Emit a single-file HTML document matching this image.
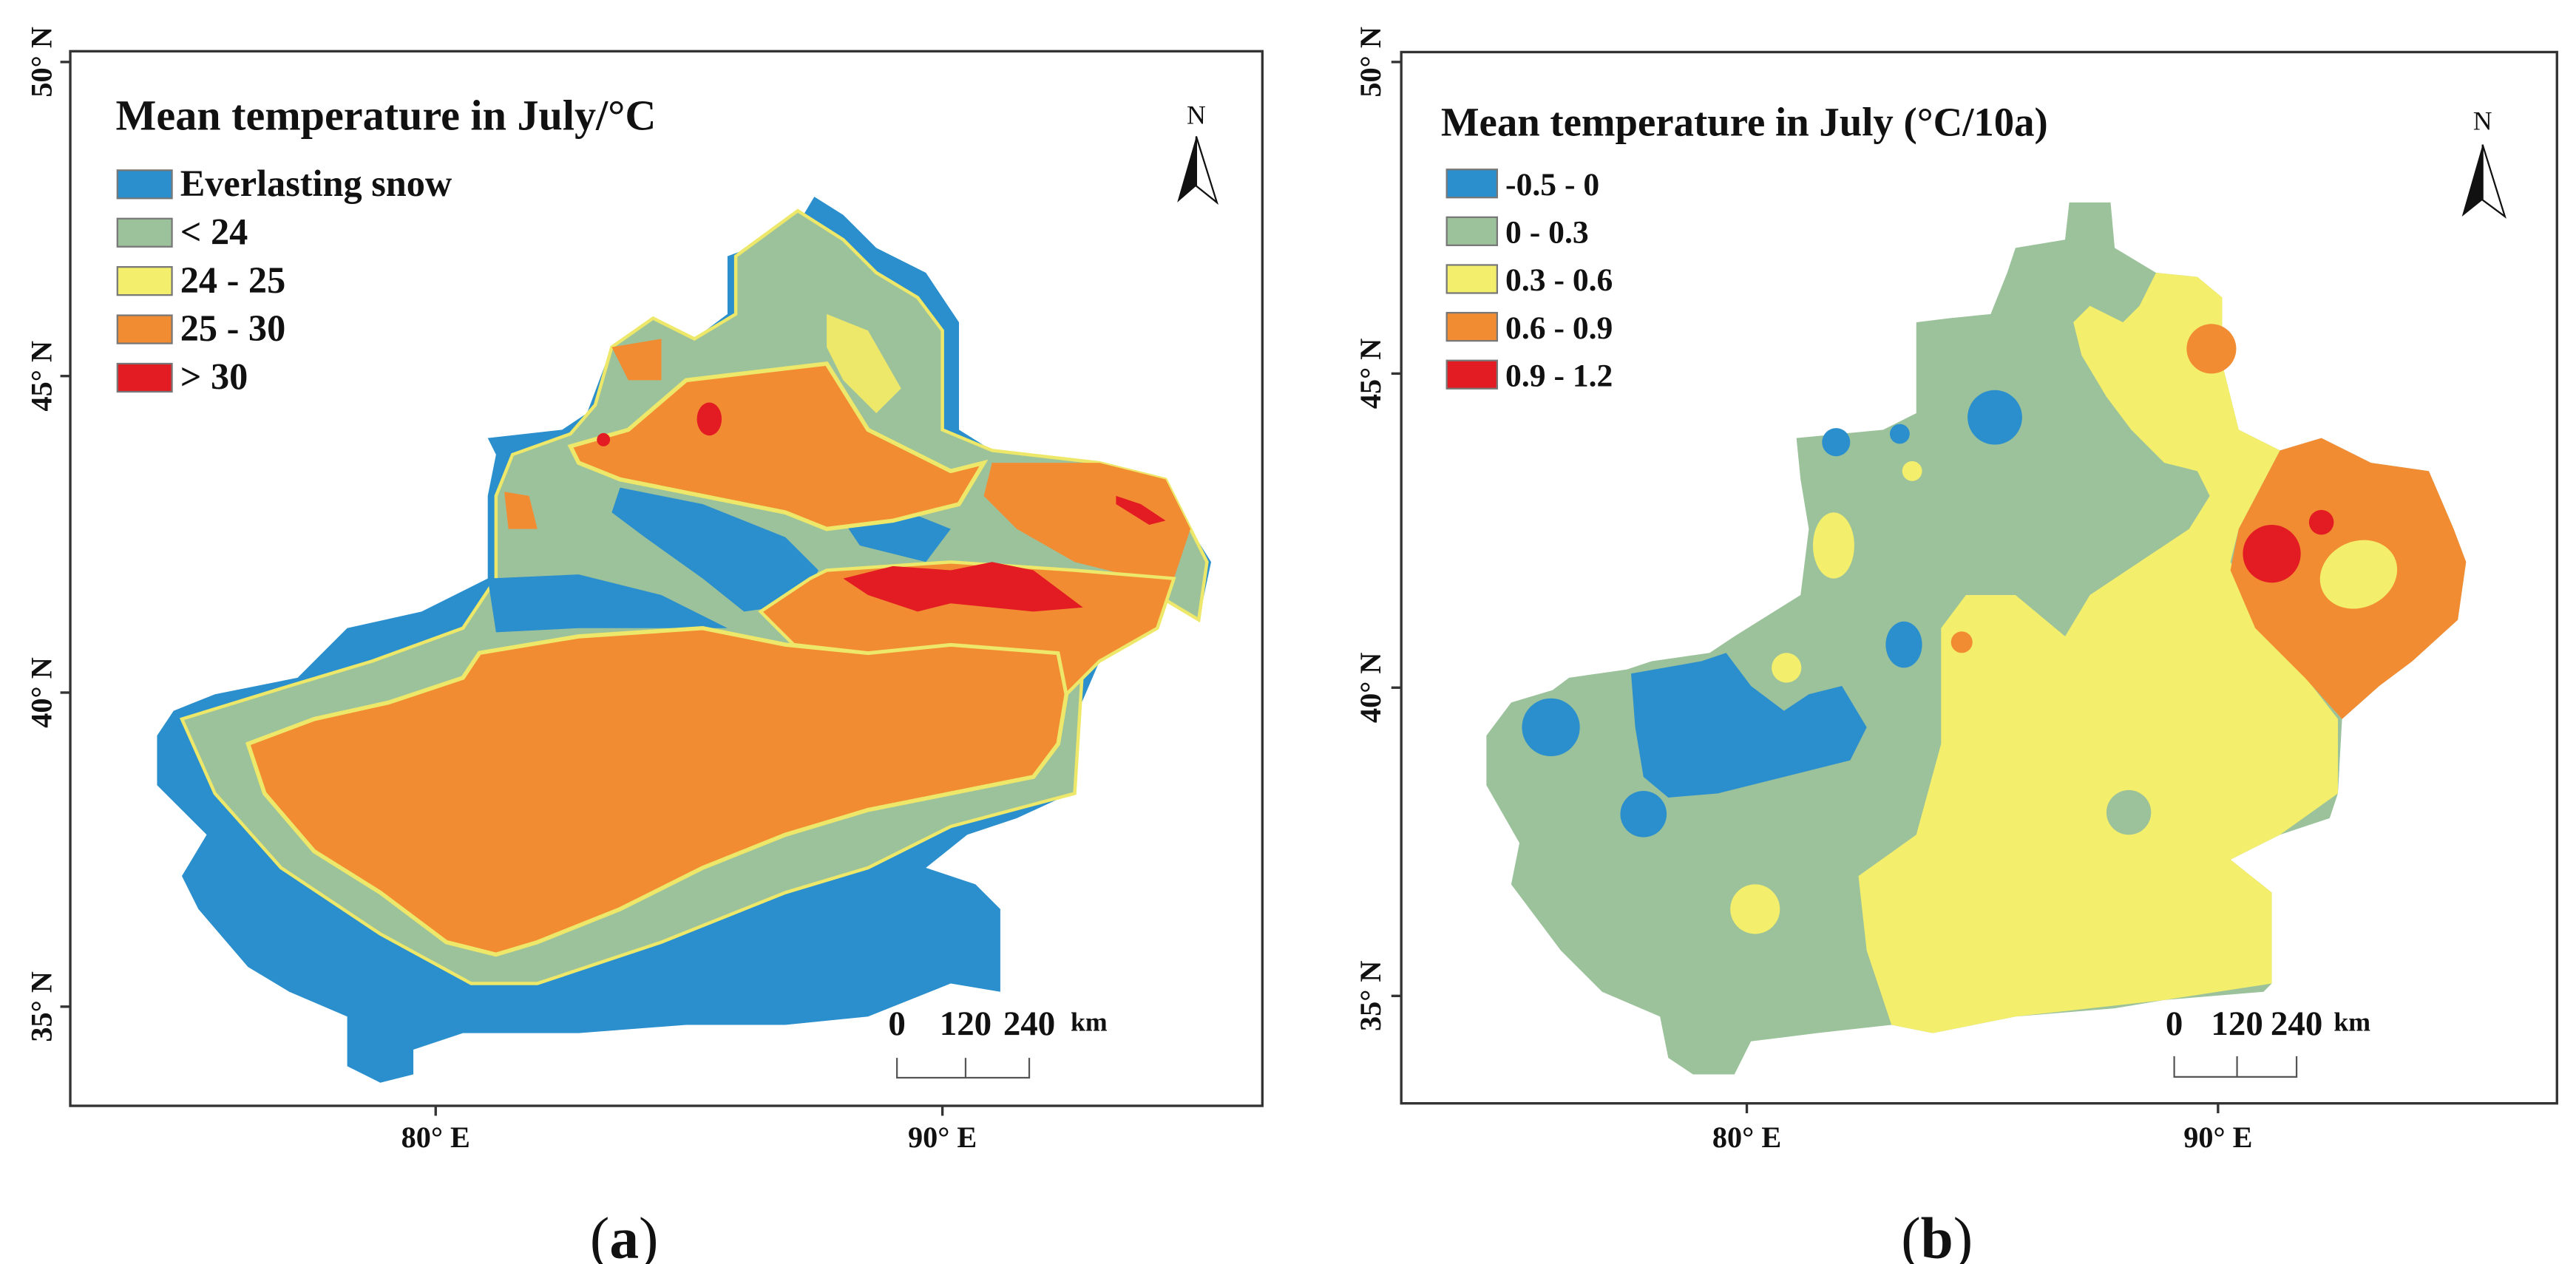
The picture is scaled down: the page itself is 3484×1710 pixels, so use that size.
<!DOCTYPE html>
<html><head><meta charset="utf-8"><style>
html,body{margin:0;padding:0;background:#fff;}
svg{display:block;}
text{font-family:"Liberation Serif",serif;fill:#111;}
</style></head><body>
<svg id="fig" width="3484" height="1710" viewBox="0 0 3484 1710" xmlns="http://www.w3.org/2000/svg">
<!-- Panel A -->
<g id="panelA" transform="scale(1.1181)">
 <g>
  <polygon fill="#2a8fcc" points="985,238 1020,260 1060,300 1120,330 1160,390 1160,520 1200,545 1330,560 1410,580 1440,640 1465,680 1450,750 1400,720 1350,760 1330,800 1300,870 1290,900 1295,960 1230,990 1170,1010 1120,1050 1180,1070 1210,1100 1210,1200 1150,1190 1050,1230 950,1240 830,1240 700,1250 560,1250 500,1270 500,1300 460,1310 420,1290 420,1230 350,1200 300,1170 240,1100 220,1060 250,1010 190,950 190,890 210,860 260,840 360,820 420,760 510,740 590,700 590,600 600,550 590,530 680,520 710,500 740,420 790,385 840,410 880,380 880,310 960,280"/>
  <polygon fill="#9cc29b" stroke="#eee86a" stroke-width="4" points="965,255 1020,290 1060,330 1110,360 1140,400 1140,520 1200,545 1330,560 1410,580 1460,680 1450,750 1400,720 1350,760 1310,800 1300,960 1150,1000 1050,1050 950,1080 800,1140 650,1190 570,1190 460,1130 340,1050 260,960 220,870 350,830 450,800 560,760 600,700 600,600 620,550 690,525 720,490 740,420 790,385 840,410 890,380 890,310"/>
  <polygon fill="#2a8fcc" points="750,590 850,610 950,650 990,690 970,730 900,740 850,700 780,650 740,620"/>
  <polygon fill="#2a8fcc" points="590,700 700,695 800,720 880,760 700,760 600,765"/>
  <polygon fill="#2a8fcc" points="1020,630 1100,620 1150,640 1120,680 1040,660"/>
  <polygon fill="#2a8fcc" points="1300,620 1350,625 1380,660 1340,665"/>
  <polygon fill="#f28c33" stroke="#eee86a" stroke-width="5" points="300,900 380,870 470,850 560,820 580,790 700,770 850,760 950,780 1050,790 1150,780 1280,790 1290,840 1280,900 1250,940 1150,960 1050,980 950,1010 850,1050 750,1100 650,1140 600,1155 540,1140 460,1080 380,1030 320,960"/>
  <polygon fill="#f28c33" stroke="#eee86a" stroke-width="5" points="690,540 760,520 830,460 1000,440 1050,520 1150,570 1190,560 1160,610 1080,630 1000,640 950,620 850,600 750,580 700,560"/>
  <polygon fill="#f28c33" points="740,420 800,410 800,460 760,460"/>
  <polygon fill="#f28c33" points="610,595 640,600 650,640 615,640"/>
  <polygon fill="#f28c33" points="1200,560 1330,560 1410,580 1440,640 1420,700 1380,700 1300,680 1230,640 1190,600"/>
  <polygon fill="#f28c33" stroke="#eee86a" stroke-width="4" points="1000,690 1150,680 1300,690 1420,700 1400,760 1330,800 1290,840 1280,790 1150,780 1050,790 960,780 920,740 980,700"/>
  <polygon fill="#eee86a" points="1000,380 1050,400 1090,470 1060,500 1020,460 1000,420"/>
  <polygon fill="#e31b23" points="1020,700 1080,685 1150,690 1200,680 1250,690 1310,735 1250,740 1150,730 1110,740 1050,720"/>
  <ellipse fill="#e31b23" cx="858" cy="507" rx="15" ry="20"/>
  <ellipse fill="#e31b23" cx="730" cy="532" rx="8" ry="8"/>
  <polygon fill="#e31b23" points="1350,600 1380,610 1410,630 1390,635 1350,610"/>
 </g>
 <rect x="85" y="62" width="1442" height="1276" fill="none" stroke="#333" stroke-width="3"/>
 <g stroke="#333" stroke-width="3">
  <line x1="527" y1="1338" x2="527" y2="1350"/><line x1="1140" y1="1338" x2="1140" y2="1350"/>
  <line x1="73" y1="75" x2="85" y2="75"/><line x1="73" y1="455" x2="85" y2="455"/><line x1="73" y1="838" x2="85" y2="838"/><line x1="73" y1="1218" x2="85" y2="1218"/>
 </g>
 <g font-size="36" font-weight="bold" text-anchor="middle">
  <text x="527" y="1388">80° E</text>
  <text x="1140" y="1388">90° E</text>
  <text transform="translate(62,75) rotate(-90)">50° N</text>
  <text transform="translate(62,455) rotate(-90)">45° N</text>
  <text transform="translate(62,838) rotate(-90)">40° N</text>
  <text transform="translate(62,1218) rotate(-90)">35° N</text>
 </g>
 <text x="140" y="157" font-size="52" font-weight="bold">Mean temperature in July/°C</text>
 <g id="legendA"></g>
 <g>
  <text x="1447" y="150" font-size="32" text-anchor="middle">N</text>
  <polygon points="1447,165 1424,245 1447,225" fill="#111"/>
  <polygon points="1447,165 1472,245 1447,225" fill="none" stroke="#111" stroke-width="2"/>
 </g>
 <g font-size="42" font-weight="bold">
  <text x="1085" y="1252" text-anchor="middle">0</text><text x="1168" y="1252" text-anchor="middle">120</text><text x="1245" y="1252" text-anchor="middle">240</text><text x="1295" y="1247" font-size="32">km</text>
  <polyline points="1085,1280 1085,1304 1245,1304 1245,1280" fill="none" stroke="#555" stroke-width="2"/>
  <line x1="1168" y1="1280" x2="1168" y2="1304" stroke="#555" stroke-width="2"/>
 </g>
 <text x="755" y="1522" font-size="71" text-anchor="middle">(<tspan font-weight="bold">a</tspan>)</text>
</g>

<!-- Panel B -->
<g id="panelB" transform="translate(1742,0) scale(1.1181)">
 <g>
  <polygon fill="#9cc29b" points="945,245 995,245 1000,300 1050,330 1100,335 1130,360 1130,440 1150,520 1200,545 1250,530 1310,560 1380,570 1410,640 1425,680 1415,750 1360,800 1320,830 1275,870 1270,960 1260,990 1200,1010 1140,1040 1190,1080 1190,1190 1180,1200 1060,1210 1000,1220 880,1230 780,1250 730,1240 640,1250 560,1260 540,1300 490,1300 460,1280 450,1230 380,1200 330,1150 270,1070 280,1020 240,950 240,890 270,850 320,835 340,820 410,810 440,800 510,790 540,770 620,720 630,640 620,580 615,530 720,520 760,500 760,390 800,385 850,380 870,330 880,300 940,290"/>
  <polygon fill="#f3ee6b" points="1050,330 1100,335 1130,360 1130,440 1150,520 1200,545 1150,640 1140,680 1200,780 1270,870 1270,960 1200,1010 1140,1040 1190,1080 1190,1190 1060,1210 880,1230 780,1250 730,1240 700,1150 690,1060 760,1010 790,900 790,760 820,720 880,720 940,770 970,720 1000,700 1090,640 1115,600 1100,570 1060,560 1020,520 990,480 960,430 950,390 970,370 1010,390 1030,370"/>
  <polygon fill="#f28c33" points="1150,640 1200,545 1250,530 1310,560 1380,570 1410,640 1425,680 1415,750 1360,800 1320,830 1275,870 1230,820 1170,760 1140,690"/>
  <circle fill="#e31b23" cx="1190" cy="670" r="35"/>
  <circle fill="#e31b23" cx="1250" cy="632" r="15"/>
  <ellipse fill="#f3ee6b" cx="1295" cy="695" rx="48" ry="40" transform="rotate(-25 1295 695)"/>
  <circle fill="#f28c33" cx="1117" cy="422" r="30"/>
  <circle fill="#2a8fcc" cx="855" cy="505" r="33"/>
  <circle fill="#2a8fcc" cx="663" cy="535" r="17"/>
  <circle fill="#2a8fcc" cx="740" cy="525" r="12"/>
  <ellipse fill="#2a8fcc" cx="745" cy="780" rx="22" ry="28"/>
  <circle fill="#2a8fcc" cx="318" cy="880" r="35"/>
  <circle fill="#2a8fcc" cx="430" cy="985" r="28"/>
  <polygon fill="#2a8fcc" points="415,815 500,800 530,790 560,830 600,860 630,840 670,830 700,880 680,920 600,940 520,960 460,965 430,940 420,880"/>
  <circle fill="#f3ee6b" cx="565" cy="1100" r="30"/>
  <circle fill="#f3ee6b" cx="603" cy="808" r="18"/>
  <circle fill="#f3ee6b" cx="755" cy="570" r="12"/>
  <ellipse fill="#f3ee6b" cx="660" cy="660" rx="25" ry="40"/>
  <circle fill="#f28c33" cx="815" cy="777" r="13"/>
  <circle fill="#9cc29b" cx="1017" cy="983" r="27"/>
 </g>
 <rect x="137" y="63" width="1398" height="1272" fill="none" stroke="#333" stroke-width="3"/>
 <g stroke="#333" stroke-width="3">
  <line x1="555" y1="1335" x2="555" y2="1347"/><line x1="1125" y1="1335" x2="1125" y2="1347"/>
  <line x1="125" y1="75" x2="137" y2="75"/><line x1="125" y1="452" x2="137" y2="452"/><line x1="125" y1="832" x2="137" y2="832"/><line x1="125" y1="1205" x2="137" y2="1205"/>
 </g>
 <g font-size="36" font-weight="bold" text-anchor="middle">
  <text x="555" y="1388">80° E</text>
  <text x="1125" y="1388">90° E</text>
  <text transform="translate(112,75) rotate(-90)">50° N</text>
  <text transform="translate(112,452) rotate(-90)">45° N</text>
  <text transform="translate(112,832) rotate(-90)">40° N</text>
  <text transform="translate(112,1205) rotate(-90)">35° N</text>
 </g>
 <text x="185" y="164" font-size="49" font-weight="bold">Mean temperature in July (°C/10a)</text>
 <g id="legendB"></g>
 <g>
  <text x="1445" y="157" font-size="32" text-anchor="middle">N</text>
  <polygon points="1445,175 1420,262 1445,242" fill="#111"/>
  <polygon points="1445,175 1472,262 1445,242" fill="none" stroke="#111" stroke-width="2"/>
 </g>
 <g font-size="42" font-weight="bold">
  <text x="1072" y="1252" text-anchor="middle">0</text><text x="1148" y="1252" text-anchor="middle">120</text><text x="1220" y="1252" text-anchor="middle">240</text><text x="1265" y="1247" font-size="32">km</text>
  <polyline points="1072,1278 1072,1303 1220,1303 1220,1278" fill="none" stroke="#555" stroke-width="2"/>
  <line x1="1148" y1="1278" x2="1148" y2="1303" stroke="#555" stroke-width="2"/>
 </g>
 <text x="785" y="1522" font-size="71" text-anchor="middle">(<tspan font-weight="bold">b</tspan>)</text>
</g>
</svg>
<script>
const legendALabels = ["Everlasting snow", "< 24", "24 - 25", "25 - 30", "> 30"];
const legendBLabels = ["-0.5 - 0", "0 - 0.3", "0.3 - 0.6", "0.6 - 0.9", "0.9 - 1.2"];
const legendColors = ["#2a8fcc", "#9cc29b", "#f3ee6b", "#f28c33", "#e31b23"];
const NS = "http://www.w3.org/2000/svg";
function buildLegend(gid, labels, x0, y0, step, sw, tx, fs) {
  const g = document.getElementById(gid);
  labels.forEach((lab, i) => {
    const r = document.createElementNS(NS, "rect");
    r.setAttribute("x", x0); r.setAttribute("y", y0 + i * step - 17);
    r.setAttribute("width", sw); r.setAttribute("height", 34);
    r.setAttribute("fill", legendColors[i]); r.setAttribute("stroke", "#777"); r.setAttribute("stroke-width", "2");
    
    
    g.appendChild(r);
    const t = document.createElementNS(NS, "text");
    t.setAttribute("x", tx); t.setAttribute("y", y0 + i * step + 14);
    t.setAttribute("font-size", fs); t.setAttribute("font-weight", "bold");
    t.textContent = lab;
    
    
    g.appendChild(t);
  });
}
buildLegend("legendA", legendALabels, 142, 223, 58.5, 66, 218, 45);
buildLegend("legendB", legendBLabels, 192, 222, 57.8, 61, 263, 39);
</script>
</body></html>
